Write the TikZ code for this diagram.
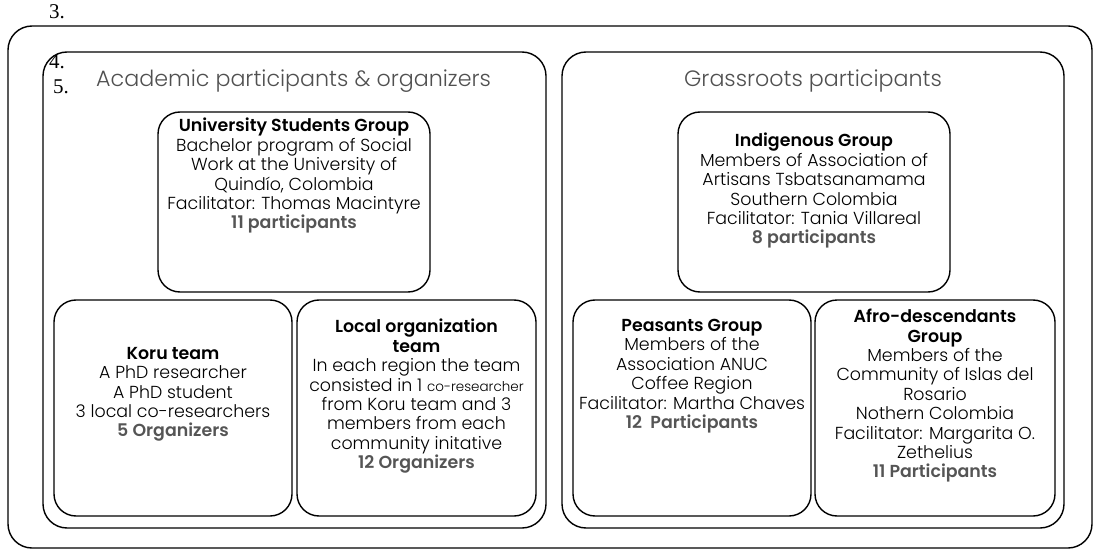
\documentclass[tikz,border=0pt]{standalone}
\usepackage{fontspec}
\setmainfont{Poppins}[UprightFont=* Light, BoldFont=* SemiBold]
\newfontfamily\numfont{Liberation Serif}
\newfontfamily\titlefont{Poppins}[UprightFont=* Light]
\definecolor{cnt}{HTML}{555555}
\definecolor{ttl}{HTML}{505050}
\begin{document}
\begin{tikzpicture}[x=1pt,y=-1pt,
  frame/.style={draw=black,line width=1.4pt,rounded corners=24pt},
  box/.style={draw=black,line width=1.4pt,rounded corners=22pt},
  txt/.style={align=center,inner sep=0pt,anchor=north,font=\fontsize{17.4}{19.4}\selectfont},
  ttlstyle/.style={inner sep=0pt,anchor=west,text=ttl,font=\titlefont\fontsize{22.2}{24}\selectfont},
  num/.style={inner sep=0pt,anchor=west,font=\numfont\fontsize{21}{22}\selectfont}]
\useasboundingbox (0,0) rectangle (1100,556);
\draw[frame] (8,26) rectangle (1092,548);
\draw[frame] (43,52) rectangle (546,528);
\draw[frame] (562,52) rectangle (1064,528);
\node[num] (n3) at (49,12) {3.};
\node[num] (n4) at (49,62) {4.};
\node[num] (n5) at (53,87) {5.};
\node[ttlstyle] (t1) at (96,81) {Academic participants \& organizers};
\node[ttlstyle,anchor=center] (t2) at (813,81) {Grassroots participants};
% boxes
\node[box,minimum width=272pt,minimum height=180pt] (ub) at (294,202) {};
\node[box,minimum width=272pt,minimum height=180pt] (ib) at (814,202) {};
\node[box,minimum width=238pt,minimum height=216pt] (kb) at (173,408) {};
\node[box,minimum width=239pt,minimum height=216pt] (lb) at (416.5,408) {};
\node[box,minimum width=238pt,minimum height=216pt] (pb) at (692,408) {};
\node[box,minimum width=240pt,minimum height=216pt] (ab) at (935,408) {};
% texts
\node[txt] (ut) at (294,118) {\textbf{University Students Group}\\Bachelor program of Social\\Work at the University of\\Quindío, Colombia\\Facilitator: Thomas Macintyre\\\textcolor{cnt}{\textbf{11 participants}}};
\node[txt] (it) at (814,133) {\textbf{Indigenous Group}\\Members of Association of\\Artisans Tsbatsanamama\\Southern Colombia\\Facilitator: Tania Villareal\\\textcolor{cnt}{\textbf{8 participants}}};
\node[txt] (kt) at (173,347) {\textbf{Koru team}\\A PhD researcher\\A PhD student\\3 local co-researchers\\\textcolor{cnt}{\textbf{5 Organizers}}};
\node[txt] (lt) at (416.5,319) {\textbf{Local organization}\\\textbf{team}\\In each region the team\\consisted in 1 {\fontsize{13.5}{19.4}\selectfont co-researcher}\\from Koru team and 3\\members from each\\community initative\\\textcolor{cnt}{\textbf{12 Organizers}}};
\node[txt] (pt) at (692,319) {\textbf{Peasants Group}\\Members of the\\Association ANUC\\Coffee Region\\Facilitator: Martha Chaves\\\textcolor{cnt}{\textbf{12\ \ Participants}}};
\node[txt] (at) at (935,309) {\textbf{Afro-descendants}\\\textbf{Group}\\Members of the\\Community of Islas del\\Rosario\\Nothern Colombia\\Facilitator: Margarita O.\\Zethelius\\\textcolor{cnt}{\textbf{11 Participants}}};
\end{tikzpicture}
\end{document}
